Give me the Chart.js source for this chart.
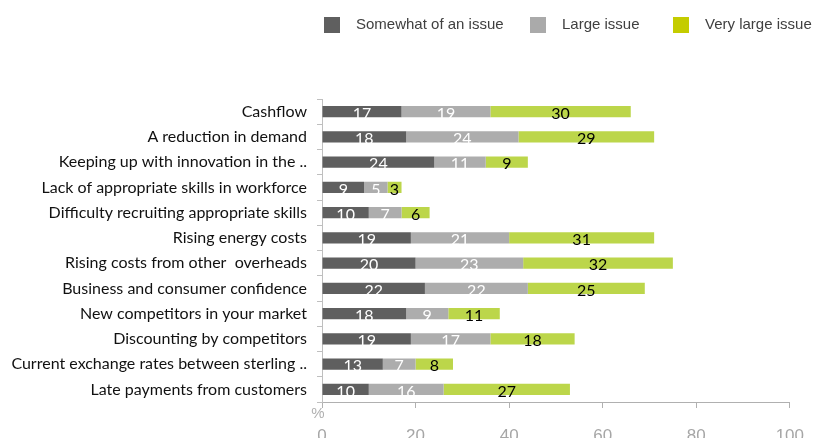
<!DOCTYPE html>
<html>
<head>
<meta charset="utf-8">
<script src="https://cdn.jsdelivr.net/npm/chart.js@4.4.1/dist/chart.umd.min.js"></script>
<style>
  html, body { margin: 0; padding: 0; background: #fff; }
  #wrap { width: 822px; height: 438px; position: relative; }
</style>
</head>
<body>
<div id="wrap"><canvas id="myChart"></canvas></div>
<script>
let categories = [
  'Cashflow',
  'A reduction in demand',
  'Keeping up with innovation in the ..',
  'Lack of appropriate skills in workforce',
  'Difficulty recruiting appropriate skills',
  'Rising energy costs',
  'Rising costs from other  overheads',
  'Business and consumer confidence',
  'New competitors in your market',
  'Discounting by competitors',
  'Current exchange rates between sterling ..',
  'Late payments from customers'
];
let somewhat = [17, 18, 24, 9, 10, 19, 20, 22, 18, 19, 13, 10];
let large = [19, 24, 11, 5, 7, 21, 23, 22, 9, 17, 7, 16];
let veryLarge = [30, 29, 9, 3, 6, 31, 32, 25, 11, 18, 8, 27];
let seriesNames = ['Somewhat of an issue', 'Large issue', 'Very large issue'];
let xTicks = [0, 20, 40, 60, 80, 100];

let barColors = ['#5f5f5f', '#adadad', '#bcd64a'];
let legendColors = ['#5f5f5f', '#aaaaaa', '#c4cc00'];
let labelColors = ['#ffffff', '#ffffff', '#000000'];

// value labels inside each segment
let segmentLabels = {
  id: 'segmentLabels',
  afterDatasetsDraw(chart) {
    let ctx = chart.ctx;
    ctx.save();
    ctx.font = '16px Lato';
    ctx.textAlign = 'center';
    ctx.textBaseline = 'middle';
    chart.data.datasets.forEach((ds, i) => {
      chart.getDatasetMeta(i).data.forEach((bar, j) => {
        let cx = (bar.x + bar.base) / 2;
        ctx.fillStyle = labelColors[i];
        ctx.fillText(ds.data[j], cx, bar.y + 2);
      });
    });
    ctx.restore();
  }
};

// legend row at the top and the % unit under the axis
let extras = {
  id: 'extras',
  afterDraw(chart) {
    let ctx = chart.ctx;
    ctx.save();
    let boxX = [324, 530, 673];
    ctx.font = '15px "Liberation Sans", Arial, sans-serif';
    ctx.textBaseline = 'middle';
    ctx.textAlign = 'left';
    seriesNames.forEach((name, i) => {
      ctx.fillStyle = legendColors[i];
      ctx.fillRect(boxX[i], 17, 16, 16);
      ctx.fillStyle = '#404040';
      ctx.fillText(name, boxX[i] + 32, 25);
    });
    ctx.fillStyle = '#b0b0b0';
    ctx.font = '15px "Liberation Sans", Arial, sans-serif';
    ctx.textAlign = 'center';
    ctx.fillText('%', chart.chartArea.left - 4, 414);
    ctx.restore();
  }
};

let myChart = document.getElementById('myChart').getContext('2d');

let chart = new Chart(myChart, {
  type: 'bar',
  data: {
    labels: categories,
    datasets: [somewhat, large, veryLarge].map((d, i) => ({
      label: seriesNames[i],
      data: d,
      backgroundColor: barColors[i],
      barPercentage: 0.45,
      categoryPercentage: 1
    }))
  },
  options: {
    indexAxis: 'y',
    responsive: true,
    maintainAspectRatio: false,
    animation: false,
    layout: { padding: { top: 99, right: 30, left: 0, bottom: 0 } },
    plugins: {
      legend: { display: false },
      tooltip: { enabled: false }
    },
    scales: {
      x: {
        stacked: true,
        min: 0,
        max: 100,
        afterBuildTicks(scale) {
          scale.ticks = xTicks.map(v => ({ value: v }));
        },
        afterFit(scale) { scale.height = 36; },
        grid: { drawOnChartArea: false, tickLength: 6, color: '#b0b0b0' },
        border: { color: '#b0b0b0' },
        ticks: {
          padding: 18,
          color: '#a6a6a6',
          font: { family: '"Liberation Sans", Arial, sans-serif', size: 17 }
        }
      },
      y: {
        stacked: true,
        afterFit(scale) { scale.width = 322; },
        grid: { drawOnChartArea: false, offset: true, tickLength: 5, color: '#bfbfbf' },
        border: { color: '#bfbfbf' },
        ticks: {
          padding: 10,
          color: '#111111',
          autoSkip: false,
          font: { family: 'Lato', size: 16 }
        }
      }
    }
  },
  plugins: [segmentLabels, extras]
});
</script>
</body>
</html>
